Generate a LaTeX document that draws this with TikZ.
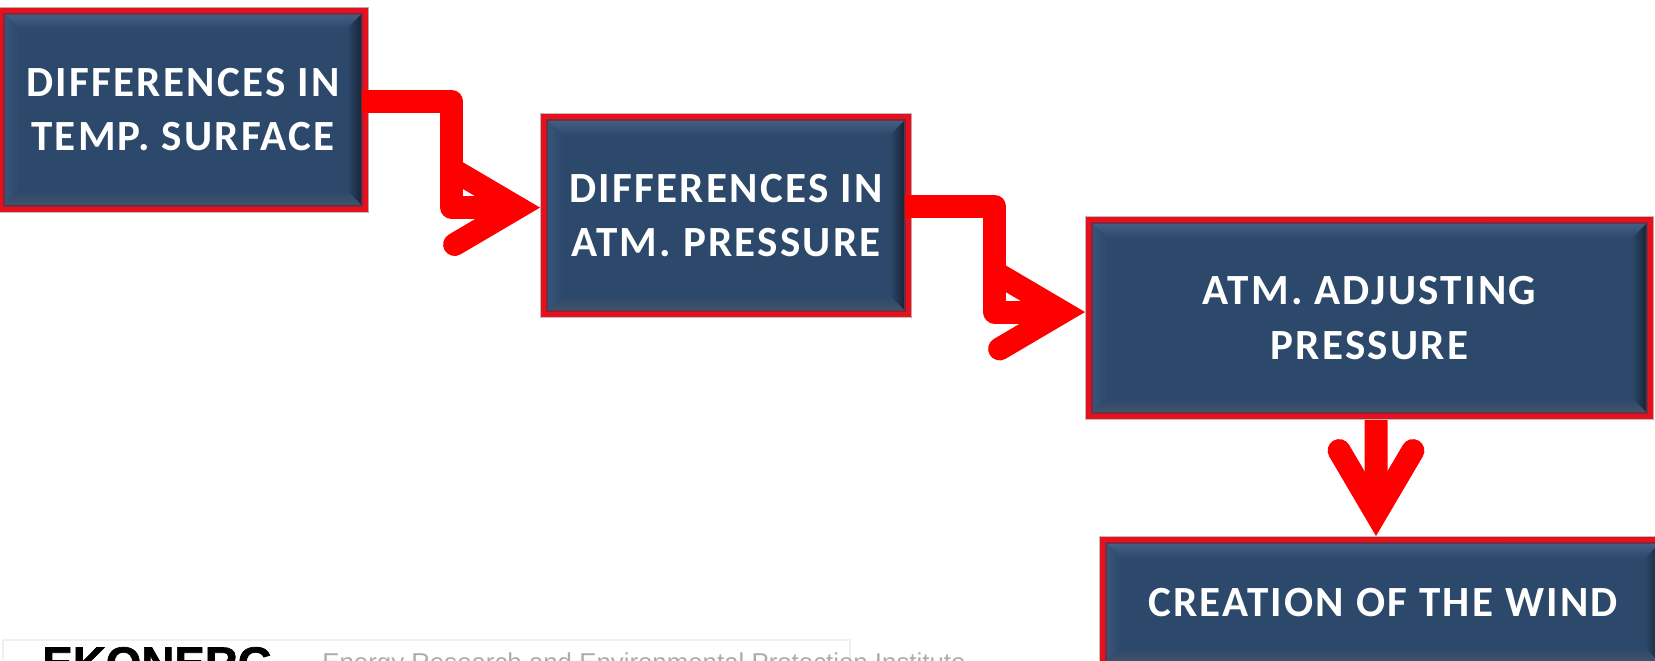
\documentclass[tikz,border=0pt]{standalone}
\usepackage{fontspec}
\usetikzlibrary{arrows.meta,calc}
\newfontfamily\boxfont[LetterSpace=5.2]{Carlito}
\newfontfamily\logofont{Liberation Sans}
\newfontfamily\logoheavy[FakeBold=1.5]{Liberation Sans Bold}
\definecolor{cface}{RGB}{44,72,107}
\definecolor{cbeveltop}{RGB}{66,94,130}
\definecolor{cbevelside}{RGB}{56,84,118}
\definecolor{cbevelright}{RGB}{24,38,56}
\definecolor{cbevelbot}{RGB}{66,84,104}
\definecolor{cframe}{RGB}{232,16,28}
\definecolor{cframedark}{RGB}{165,0,8}
\definecolor{cedge}{RGB}{120,44,66}
\definecolor{carrow}{RGB}{255,0,0}
\definecolor{cstrip}{RGB}{240,240,240}
\newcommand{\boxbevel}{%
  \coordinate (nw) at (path picture bounding box.north west);
  \coordinate (se) at (path picture bounding box.south east);
  \fill[gray!50] (nw) rectangle (se);
  \fill[cframe] ($(nw)+(1,1)$) rectangle ($(se)-(1,1)$);
  \shade[left color=cframe,right color=cframedark] ($(se)+(-9,1)$) rectangle ($(se)-(1,-1)$)
    |- ($(nw)+(0,1)$) -| cycle;
  \fill[cedge] ($(nw)+(6,6)$) rectangle ($(se)-(6,6)$);
  \fill[cface] ($(nw)+(8,8)$) rectangle ($(se)-(8,8)$);
  \shade[top color=cbeveltop,bottom color=cface]
    ($(nw)+(8,8)$)--($(nw-|se)+(-8,8)$)--($(nw-|se)+(-22,22)$)--($(nw)+(22,22)$)--cycle;
  \shade[left color=cbevelside,right color=cface]
    ($(nw)+(8,8)$)--($(nw)+(22,22)$)--($(se-|nw)+(22,-22)$)--($(se-|nw)+(8,-8)$)--cycle;
  \shade[left color=cface,right color=cbevelright]
    ($(nw-|se)+(-8,8)$)--($(nw-|se)+(-22,22)$)--($(se)-(22,22)$)--($(se)-(8,8)$)--cycle;
  \shade[top color=cface,bottom color=cbevelbot]
    ($(se-|nw)+(8,-8)$)--($(se-|nw)+(22,-22)$)--($(se)-(22,22)$)--($(se)-(8,8)$)--cycle;}
\begin{document}
\begin{tikzpicture}[
  x=0.02cm,y=-0.02cm,
  flowbox/.style 2 args={rectangle,minimum width=#1*0.02cm,minimum height=#2*0.02cm,
    inner sep=0pt,outer sep=0pt,text=white,align=center,
    font=\boxfont\bfseries\fontsize{24.5}{31}\selectfont,path picture={\boxbevel}},
  flowarrow/.style={carrow,line width=23*0.02cm,line join=round,
    -{Straight Barb[length=35.7pt,width=42pt,line cap=round,line join=miter]}},
]
\useasboundingbox (0,0) rectangle (1655,660);
\clip (0,0) rectangle (1655,660);

% ===== LOGO STRIP =====
\draw[cstrip,line width=1pt] (3,660) |- (850,640) -- (850,660);
\node[anchor=base west,inner sep=0pt,font=\logoheavy\fontsize{26}{26}\selectfont]
  (logoname) at (42,679) {EKONERG};
\node[anchor=base west,inner sep=0pt,text=gray!65,font=\logofont\fontsize{14.7}{15}\selectfont]
  (logotext) at (322,671) {Energy Research and Environmental Protection Institute};

% ===== BOXES =====
\node[flowbox={372}{206}] (tempbox) at (183,109.5) {DIFFERENCES IN\\TEMP. SURFACE};
\node[flowbox={372}{205}] (pressbox) at (726,215.5) {DIFFERENCES IN\\ATM. PRESSURE};
\node[flowbox={569}{204}] (adjustbox) at (1369.5,318) {ATM. ADJUSTING\\PRESSURE};
\node[flowbox={568}{134}] (windbox) at (1383,603) {CREATION OF THE WIND};

% ===== ARROWS =====
\draw[flowarrow] ([xshift=-4pt,yshift=4.5pt]tempbox.east) -- ++(90,0)
  |- ([yshift=4.5pt]pressbox.west);
\draw[flowarrow] ([xshift=-4pt,yshift=5.1pt]pressbox.east) -- ++(90,0)
  |- ([yshift=3.4pt]adjustbox.west);
\draw[flowarrow] ([xshift=3.7pt]adjustbox.south) -- ([xshift=-4pt]windbox.north);

\end{tikzpicture}
\end{document}
